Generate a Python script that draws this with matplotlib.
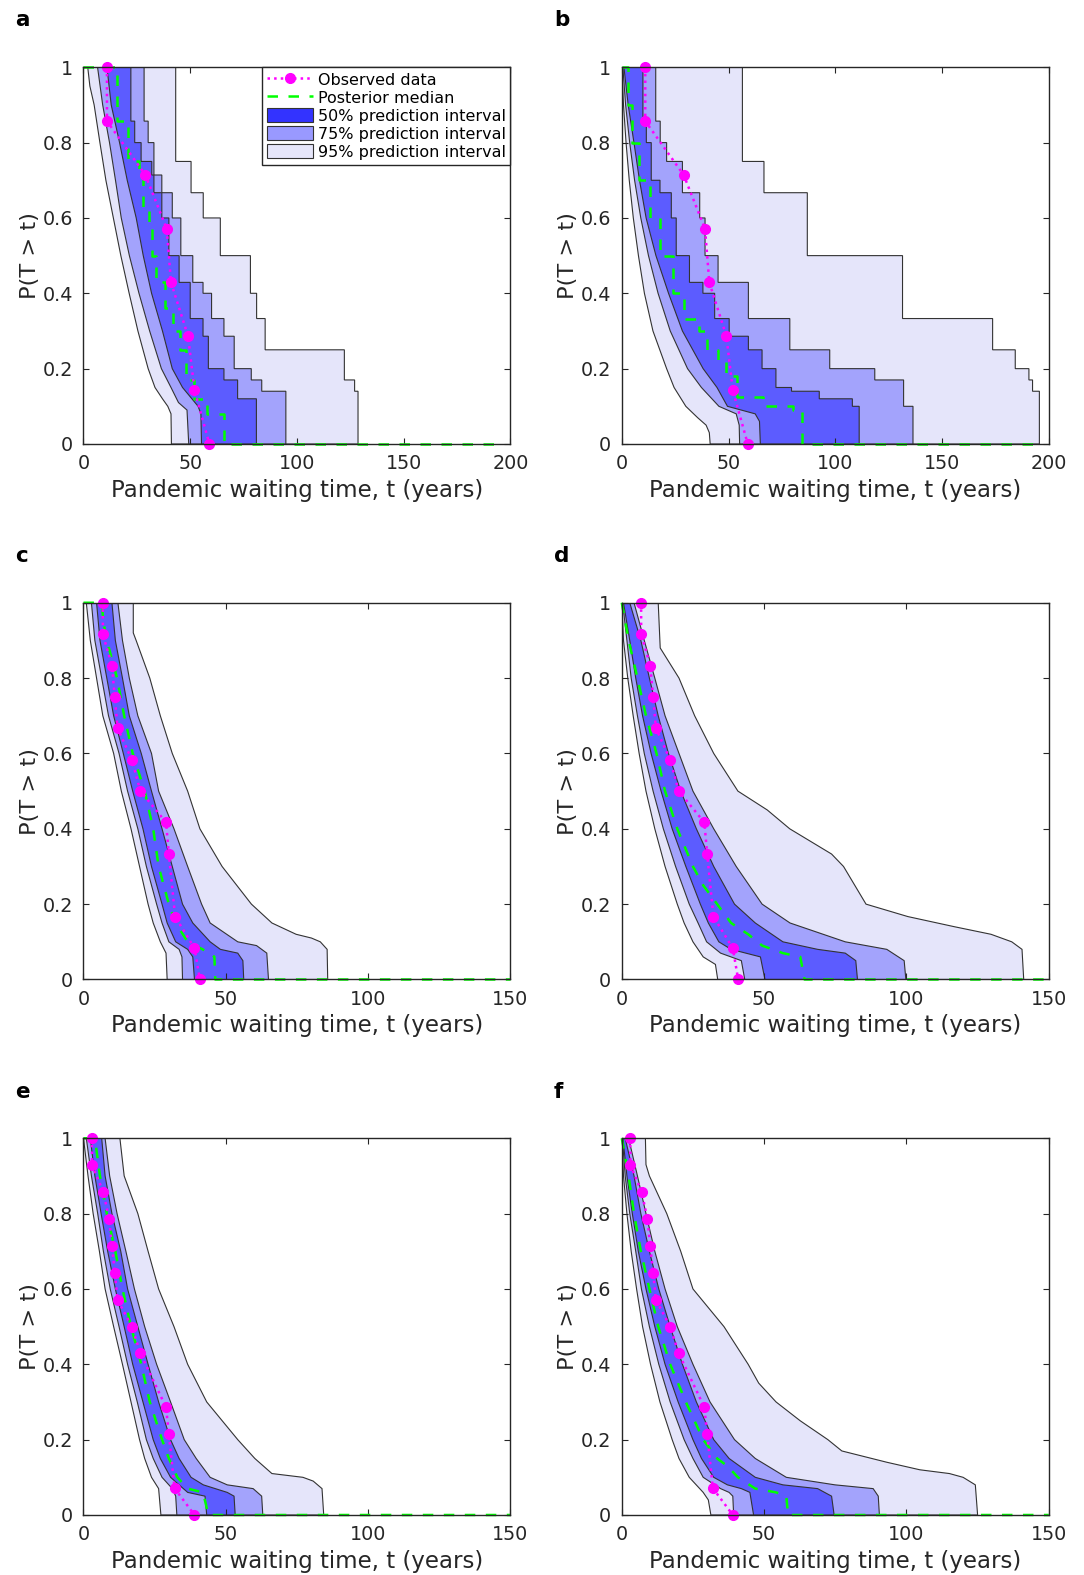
import numpy as np
import matplotlib.pyplot as plt
from matplotlib.patches import Patch
from matplotlib.lines import Line2D

# observed pandemic waiting times (t, P(T > t))
obs7_t = [11, 11, 29, 39, 41, 49, 52, 59]
obs7_p = [1, 0.857, 0.714, 0.571, 0.429, 0.286, 0.143, 0]
obs12_t = [6.8, 6.8, 10, 11, 12, 17, 20, 29, 30, 32.2, 39, 40.9]
obs12_p = [1, 0.917, 0.833, 0.75, 0.667, 0.583, 0.5, 0.417, 0.333, 0.167, 0.083, 0]
obs14_t = [3, 3, 7, 9, 10, 11, 12, 17, 20, 29, 30, 32, 39]
obs14_p = [1, 0.929, 0.857, 0.786, 0.714, 0.643, 0.571, 0.5, 0.429, 0.286, 0.214, 0.071, 0]

# prediction bands as (P, t) pairs
a_lo95 = [(1, 2), (0.95, 3), (0.9, 5), (0.8, 7.7), (0.7, 10.5), (0.6, 14), (0.5, 17.5), (0.4, 21.4),
          (0.3, 25.5), (0.2, 30.3), (0.15, 33.5), (0.12, 37), (0.1, 39.5), (0.08, 41), (0, 41.2)]
a_lo75 = [(1, 6.6), (0.9, 9), (0.8, 12.2), (0.7, 15), (0.6, 17.7), (0.5, 21.5), (0.4, 26), (0.3, 31),
          (0.2, 36.5), (0.15, 41), (0.11, 44.5), (0.09, 48.5), (0, 49.3)]
a_lo50 = [(1, 11), (0.9, 13), (0.8, 16.9), (0.7, 20.5), (0.6, 24.7), (0.5, 28), (0.4, 31.9), (0.3, 37),
          (0.2, 41.6), (0.15, 46.4), (0.1, 53.7), (0.08, 55), (0, 55.3)]
a_hi50 = [(1, 22.2), (0.857, 24), (0.8, 27), (0.75, 32), (0.714, 33), (0.667, 36.7), (0.6, 40), (0.5, 44.8),
          (0.429, 50), (0.333, 56), (0.286, 58.5), (0.2, 65.8), (0.17, 72.2), (0.12, 81)]
a_hi75 = [(1, 28.4), (0.857, 30.3), (0.8, 33), (0.714, 36.7), (0.667, 41.6), (0.6, 45.6), (0.5, 51.2),
          (0.429, 56), (0.4, 60), (0.333, 65.8), (0.286, 70.6), (0.2, 78.6), (0.17, 83.5), (0.14, 94.8)]
a_hi95 = [(1, 43.2), (0.75, 50.4), (0.667, 56.1), (0.6, 64.1), (0.5, 78.2), (0.4, 81.1), (0.333, 85.1),
          (0.25, 122.2), (0.17, 127), (0.14, 128.6)]
a_med = [(1, 15.8), (0.857, 21), (0.75, 26), (0.714, 28), (0.63, 30.5), (0.571, 32), (0.5, 34), (0.429, 38),
         (0.36, 42), (0.3, 45), (0.25, 48), (0.17, 52), (0.12, 58), (0.08, 66)]

b_lo95 = [(1, 0), (0.9, 0.8), (0.8, 2), (0.7, 3.5), (0.6, 5.4), (0.5, 7.8), (0.4, 10.6), (0.3, 14.6),
          (0.2, 21), (0.15, 24.5), (0.1, 30), (0.07, 35.5), (0.05, 39.5), (0.03, 41), (0, 41.4)]
b_lo75 = [(1, 0.5), (0.9, 1.8), (0.8, 3.7), (0.7, 6), (0.6, 8.9), (0.5, 12.5), (0.4, 17), (0.3, 22.7),
          (0.2, 30.8), (0.15, 37.3), (0.1, 45.5), (0.08, 53.6), (0.05, 55), (0, 55.2)]
b_lo50 = [(1, 1), (0.9, 3), (0.8, 5.7), (0.7, 8.3), (0.6, 11.4), (0.5, 16), (0.4, 21.9), (0.3, 28.4),
          (0.2, 38.1), (0.15, 44.6), (0.1, 49.5), (0.08, 62.5), (0.06, 64.5), (0, 64.9)]
b_hi50 = [(1, 9.9), (0.857, 11.5), (0.8, 13.8), (0.7, 17.9), (0.667, 23.2), (0.6, 25.5), (0.5, 31.7),
          (0.429, 38), (0.4, 43.5), (0.333, 50.3), (0.286, 59.3), (0.25, 65.7), (0.2, 72.2), (0.15, 79.5),
          (0.14, 92.5), (0.12, 108), (0.1, 111.2)]
b_hi75 = [(1, 15.9), (0.857, 18), (0.8, 21), (0.75, 28.4), (0.667, 36.5), (0.6, 39), (0.5, 45.1),
          (0.429, 59.3), (0.333, 78.7), (0.25, 97.4), (0.2, 118.5), (0.17, 132), (0.1, 136.4)]
b_hi95 = [(1, 56.5), (0.75, 66.6), (0.667, 86.9), (0.5, 131.5), (0.333, 173.7), (0.25, 184.3),
          (0.2, 190.7), (0.17, 192.4), (0.14, 195.6)]
b_med = [(1, 3), (0.9, 5), (0.8, 8), (0.7, 13), (0.6, 18), (0.5, 24), (0.4, 29), (0.333, 36), (0.3, 40),
         (0.25, 45), (0.22, 49), (0.18, 54), (0.125, 66), (0.1, 80), (0.09, 84.4)]

c_lo95 = [(1, 1), (0.9, 2.4), (0.8, 4.6), (0.7, 6.8), (0.6, 10.6), (0.5, 13.3), (0.4, 16.7), (0.3, 19.7),
          (0.2, 22.7), (0.15, 24.5), (0.1, 27), (0.07, 29), (0, 29.4)]
c_lo75 = [(1, 2.8), (0.9, 4), (0.8, 6.4), (0.7, 8.8), (0.6, 12.5), (0.5, 15.5), (0.4, 19.1), (0.3, 22.1),
          (0.2, 25.7), (0.15, 27.6), (0.1, 30), (0.08, 33.6), (0.06, 34.6), (0, 34.8)]
c_lo50 = [(1, 4.6), (0.9, 5.8), (0.8, 8.2), (0.7, 10.6), (0.6, 14), (0.5, 17.3), (0.4, 20.9), (0.3, 23.9),
          (0.2, 27.6), (0.15, 29.4), (0.1, 32.4), (0.08, 36.6), (0.06, 38.4), (0, 39)]
c_hi50 = [(1, 10), (0.9, 11.2), (0.8, 13.7), (0.7, 16.1), (0.6, 20.3), (0.5, 23.9), (0.4, 27.6), (0.3, 31.2),
          (0.2, 34.8), (0.15, 38.4), (0.1, 44.5), (0.08, 48.1), (0.07, 54.2), (0.05, 56), (0, 56.3)]
c_hi75 = [(1, 12.1), (0.9, 13.7), (0.8, 16.1), (0.7, 19.1), (0.6, 23.9), (0.5, 26.4), (0.4, 31.8),
          (0.3, 36.6), (0.2, 41.5), (0.15, 44.5), (0.1, 54.2), (0.09, 60.8), (0.07, 64.4), (0, 65)]
c_hi95 = [(1, 17.5), (0.92, 17.5), (0.9, 18.5), (0.8, 23.3), (0.7, 27), (0.6, 31.2), (0.5, 36.6),
          (0.4, 40.9), (0.3, 48.7), (0.2, 59), (0.15, 66.2), (0.12, 74.7), (0.11, 80.1), (0.1, 83.2),
          (0.08, 85.6), (0, 85.8)]
c_med = [(1, 0), (1, 6.4), (0.95, 7), (0.9, 8.2), (0.8, 11.8), (0.7, 14.3), (0.6, 17.3), (0.5, 21.5),
         (0.4, 24.5), (0.3, 26.4), (0.2, 30), (0.15, 32.4), (0.1, 36.6), (0.07, 44.5), (0.06, 46), (0, 46.3),
         (0, 150)]

d_lo95 = [(1, 0), (0.9, 0.6), (0.8, 2.1), (0.7, 4), (0.6, 6.1), (0.5, 8.5), (0.4, 11.6), (0.3, 15.2),
          (0.2, 19.5), (0.15, 21.9), (0.1, 25), (0.06, 28.6), (0.04, 32.9), (0, 33.7)]
d_lo75 = [(1, 0.3), (0.9, 1.8), (0.8, 3.3), (0.7, 5.5), (0.6, 7.9), (0.5, 11), (0.4, 14.6), (0.3, 18.9),
          (0.2, 23.7), (0.15, 26.8), (0.1, 29.8), (0.07, 34.7), (0.05, 42), (0, 43.2)]
d_lo50 = [(1, 0.6), (0.9, 2.8), (0.8, 4.9), (0.7, 7.3), (0.6, 10.3), (0.5, 13.8), (0.4, 17.7), (0.3, 22.5),
          (0.2, 27.6), (0.15, 30.4), (0.1, 34.1), (0.08, 38.4), (0.06, 48.7), (0, 50.3)]
d_hi50 = [(1, 2.8), (0.9, 6.7), (0.8, 9.7), (0.7, 12.8), (0.6, 16.4), (0.5, 20.7), (0.4, 26.2), (0.3, 32.3),
          (0.2, 39.6), (0.15, 46.9), (0.1, 56.6), (0.08, 68.8), (0.07, 78.5), (0.05, 82.2), (0, 82.8)]
d_hi75 = [(1, 4.3), (0.9, 7.9), (0.8, 11.6), (0.7, 15.2), (0.6, 20.1), (0.5, 25), (0.4, 32.3), (0.3, 40.2),
          (0.2, 49.3), (0.15, 59.1), (0.1, 78.5), (0.08, 93.1), (0.05, 99.2), (0, 99.8)]
d_hi95 = [(1, 12.8), (0.88, 13.5), (0.8, 20.1), (0.7, 25.6), (0.6, 32.3), (0.5, 40.8), (0.45, 51.1),
          (0.4, 59), (0.333, 73.7), (0.3, 77.9), (0.2, 85.8), (0.167, 100.5), (0.14, 116.9), (0.12, 129.7),
          (0.1, 137), (0.08, 140.6), (0, 141.2)]
d_med = [(1, 0), (0.9, 2.4), (0.8, 5.5), (0.7, 8.5), (0.6, 12.2), (0.5, 15.2), (0.4, 19.5), (0.3, 25),
         (0.25, 28.6), (0.2, 33.5), (0.15, 38.4), (0.12, 44.4), (0.09, 49.3), (0.07, 56.6), (0.06, 62.7),
         (0, 64.2), (0, 150)]

e_lo95 = [(1, 0), (0.9, 1.6), (0.8, 3.4), (0.7, 5.6), (0.6, 7.6), (0.5, 10.6), (0.4, 13.7), (0.3, 16.7),
          (0.2, 19.7), (0.15, 21.5), (0.1, 23.9), (0.07, 26.4), (0, 27.2)]
e_lo75 = [(1, 1), (0.9, 2.8), (0.8, 5), (0.7, 7), (0.6, 9.4), (0.5, 12.5), (0.4, 15.5), (0.3, 18.9),
          (0.2, 22.1), (0.15, 24.5), (0.1, 27.6), (0.07, 31.2), (0.05, 32.4), (0, 32.8)]
e_lo50 = [(1, 2.4), (0.9, 4), (0.8, 6.2), (0.7, 8.5), (0.6, 11.2), (0.5, 14.3), (0.4, 17.3), (0.3, 20.9),
          (0.2, 24.5), (0.15, 27), (0.1, 30.6), (0.08, 33.6), (0.06, 36.6), (0.05, 42.7), (0, 43.3)]
e_hi50 = [(1, 6.4), (0.9, 7.6), (0.8, 10), (0.7, 13.1), (0.6, 15.5), (0.5, 19.1), (0.4, 22.7), (0.3, 26.4),
          (0.2, 30.6), (0.15, 33.6), (0.1, 37.8), (0.08, 42.1), (0.06, 50.5), (0.05, 52.9), (0, 53.3)]
e_hi75 = [(1, 7.6), (0.9, 9.2), (0.8, 11.8), (0.7, 14.9), (0.6, 17.9), (0.5, 21.5), (0.4, 25.7), (0.3, 30.6),
          (0.2, 35.4), (0.15, 39.6), (0.1, 44.5), (0.08, 50.5), (0.07, 59.6), (0.05, 62.6), (0, 63)]
e_hi95 = [(1, 12.8), (0.9, 14.3), (0.8, 19.1), (0.7, 22.7), (0.6, 26.4), (0.5, 31.8), (0.4, 36.6),
          (0.3, 43.3), (0.2, 54.2), (0.15, 60.2), (0.11, 66.2), (0.1, 77.1), (0.09, 80.7), (0.07, 83.8),
          (0, 84.4)]
e_med = [(1, 0), (1, 4), (0.9, 5.8), (0.8, 8.2), (0.7, 11.2), (0.6, 13.7), (0.5, 16.7), (0.4, 20.3),
         (0.3, 23.3), (0.2, 27.6), (0.15, 30), (0.1, 33), (0.07, 36.6), (0.06, 42), (0, 43.9), (0, 150)]

f_lo95 = [(1, 0), (0.9, 0.6), (0.8, 1.8), (0.7, 3.3), (0.6, 5.2), (0.5, 7.3), (0.4, 10.1), (0.3, 13.4),
          (0.2, 17.7), (0.15, 20.1), (0.1, 23.7), (0.06, 28.6), (0.04, 30.4), (0, 31.3)]
f_lo75 = [(1, 0.2), (0.9, 1.2), (0.8, 2.8), (0.7, 4.9), (0.6, 6.9), (0.5, 9.7), (0.4, 13), (0.3, 17),
          (0.2, 21.9), (0.15, 25), (0.1, 28.6), (0.07, 34.7), (0.06, 37.7), (0.05, 39), (0, 39.3)]
f_lo50 = [(1, 0.4), (0.9, 1.8), (0.8, 3.7), (0.7, 5.8), (0.6, 8.5), (0.5, 11.6), (0.4, 15.2), (0.3, 19.8),
          (0.2, 25), (0.15, 28), (0.1, 32.3), (0.08, 37.1), (0.07, 42), (0.06, 45), (0, 46.3)]
f_hi50 = [(1, 1.2), (0.9, 4.3), (0.8, 6.7), (0.7, 9.7), (0.6, 13), (0.5, 17), (0.4, 21.3), (0.3, 26.2),
          (0.2, 32.3), (0.15, 37.7), (0.1, 46.9), (0.08, 56.6), (0.07, 68.8), (0.05, 73.7), (0, 74.6)]
f_hi75 = [(1, 2.4), (0.9, 5.5), (0.8, 8.5), (0.7, 11.6), (0.6, 15.2), (0.5, 19.5), (0.4, 25), (0.3, 31),
          (0.2, 39.6), (0.15, 46.9), (0.1, 57.8), (0.08, 74.9), (0.07, 88.3), (0.05, 90.1), (0, 90.5)]
f_hi95 = [(1, 8.3), (0.93, 8.5), (0.9, 9.7), (0.8, 15.8), (0.7, 20.7), (0.6, 25), (0.5, 35.9), (0.4, 44.4),
          (0.35, 48.1), (0.3, 54.2), (0.25, 62.7), (0.2, 72.4), (0.17, 77.3), (0.14, 93.1), (0.12, 104.7),
          (0.11, 115.1), (0.1, 119.9), (0.08, 124.2), (0, 125)]
f_med = [(1, 0), (0.9, 2.4), (0.8, 4.3), (0.7, 6.7), (0.6, 9.7), (0.5, 12.8), (0.4, 17), (0.3, 22.5),
         (0.2, 28.6), (0.15, 33.5), (0.13, 37.1), (0.1, 40.8), (0.07, 46.9), (0.06, 54.2), (0.05, 57.8),
         (0, 58.4), (0, 150)]

letters = ['a', 'b', 'c', 'd', 'e', 'f']
xmaxes = [200, 200, 150, 150, 150, 150]
med_end = [197, 196, 150, 150, 150, 150]
stepped = [True, True, False, False, False, False]
bands = [(a_lo95, a_hi95, a_lo75, a_hi75, a_lo50, a_hi50, a_med),
         (b_lo95, b_hi95, b_lo75, b_hi75, b_lo50, b_hi50, b_med),
         (c_lo95, c_hi95, c_lo75, c_hi75, c_lo50, c_hi50, c_med),
         (d_lo95, d_hi95, d_lo75, d_hi75, d_lo50, d_hi50, d_med),
         (e_lo95, e_hi95, e_lo75, e_hi75, e_lo50, e_hi50, e_med),
         (f_lo95, f_hi95, f_lo75, f_hi75, f_lo50, f_hi50, f_med)]
observed = [(obs7_t, obs7_p), (obs7_t, obs7_p), (obs12_t, obs12_p),
            (obs12_t, obs12_p), (obs14_t, obs14_p), (obs14_t, obs14_p)]

c95, c75, c50 = '#e5e5fa', '#a3a3fc', '#5c5cff'
edge = '#333333'
ink = '#262626'


def line(pairs):
    return np.array([q[1] for q in pairs], float), np.array([q[0] for q in pairs], float)


def stair(pairs):
    p = [q[0] for q in pairs] + [0.0]
    xs, ys = [], []
    for i, q in enumerate(pairs):
        xs += [q[1], q[1]]
        ys += [p[i], p[i + 1]]
    return np.array(xs, float), np.array(ys, float)


plt.rcParams['font.family'] = 'DejaVu Sans'
fig = plt.figure(figsize=(10.84, 15.75), dpi=100)

lefts = [0.0770, 0.5736]
bottoms = [0.7181, 0.3781, 0.0381]
w, h = 0.3939, 0.2392
letter_xy = [(15, 20), (554, 20), (15, 556), (554, 556), (15, 1092), (554, 1092)]

for k in range(6):
    ax = fig.add_axes([lefts[k % 2], bottoms[k // 2], w, h])
    lo95, hi95, lo75, hi75, lo50, hi50, med = bands[k]
    for lo, hi, col in [(lo95, hi95, c95), (lo75, hi75, c75), (lo50, hi50, c50)]:
        lx, ly = line(lo)
        hx, hy = stair(hi) if stepped[k] else line(hi)
        ax.fill(np.r_[lx, hx[::-1]], np.r_[ly, hy[::-1]], facecolor=col,
                edgecolor=edge, lw=0.8, zorder=1)
    if stepped[k]:
        mx, my = stair(med)
        mx = np.r_[0, mx, med_end[k]]
        my = np.r_[1, my, 0]
    else:
        mx, my = line(med)
    ax.plot(mx, my, color='#00ff00', lw=1.8, dashes=(4.2, 4.2), zorder=3, clip_on=False)
    ot, op = observed[k]
    ax.plot(ot, op, ':', color='#ff00ff', lw=1.8, marker='o', ms=7,
            zorder=4, clip_on=False)

    ax.set_xlim(0, xmaxes[k])
    ax.set_ylim(0, 1)
    ax.set_xticks(np.arange(0, xmaxes[k] + 1, 50))
    ax.set_yticks([0, 0.2, 0.4, 0.6, 0.8, 1])
    ax.set_yticklabels(['0', '0.2', '0.4', '0.6', '0.8', '1'])
    ax.tick_params(direction='in', top=True, right=True, length=4.5, width=0.8,
                   labelsize=13.8, colors=ink, pad=7.5)
    for s in ax.spines.values():
        s.set_color(ink)
        s.set_linewidth(1.0)
        s.set_zorder(5)
    ax.set_xlabel('Pandemic waiting time, t (years)', fontsize=16.5, color=ink, labelpad=4)
    ax.set_ylabel('P(T > t)', fontsize=16.2, color=ink, labelpad=2)
    lx, ly = letter_xy[k]
    fig.text(lx / 1084, 1 - ly / 1575, letters[k], fontsize=15.5, fontweight='bold',
             va='center', ha='left')

    if k == 0:
        handles = [Line2D([], [], ls=':', color='#ff00ff', lw=1.8, marker='o', ms=7),
                   Line2D([], [], color='#00ff00', lw=1.8, dashes=(4.2, 4.2)),
                   Patch(facecolor='#3333ff', edgecolor=edge, lw=0.8),
                   Patch(facecolor='#9999ff', edgecolor=edge, lw=0.8),
                   Patch(facecolor='#e6e6fa', edgecolor=edge, lw=0.8)]
        labels = ['Observed data', 'Posterior median', '50% prediction interval',
                  '75% prediction interval', '95% prediction interval']
        leg = ax.legend(handles, labels, loc='upper right', borderaxespad=0, fontsize=11.5,
                        fancybox=False, framealpha=1, edgecolor=ink, handlelength=2.9,
                        handleheight=1.0, handletextpad=0.3, labelspacing=0.15, borderpad=0.3)
        leg.get_frame().set_linewidth(1.0)
        leg.set_zorder(6)

fig.savefig('out.png', dpi=100)
